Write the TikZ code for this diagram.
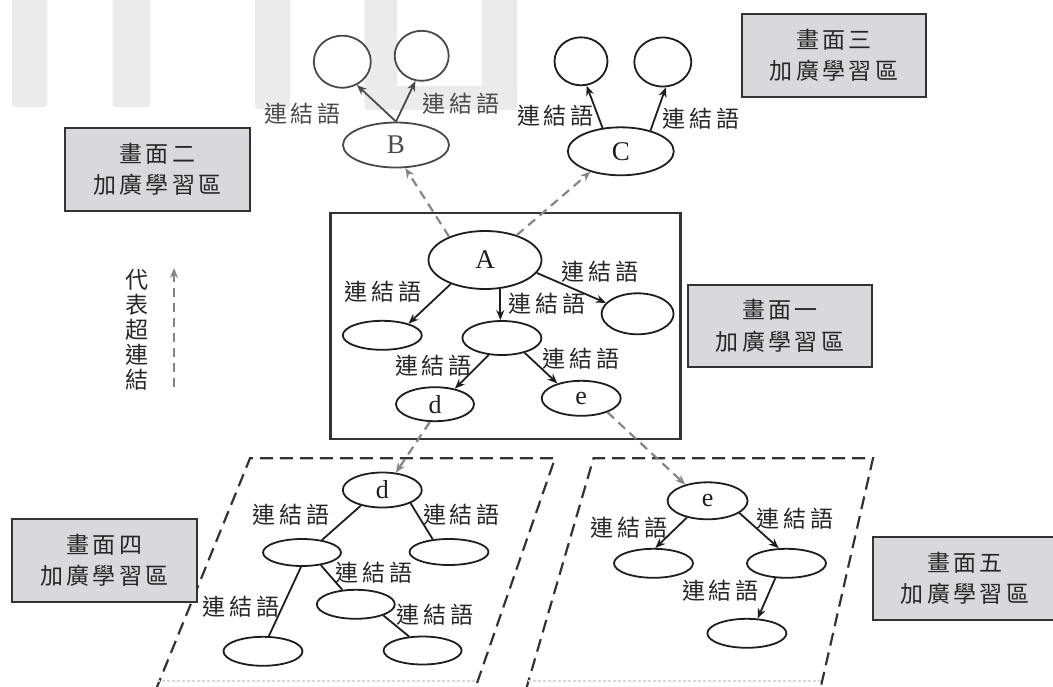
\documentclass[tikz,border=0pt]{standalone}
\usepackage{fontspec}
\setmainfont{Liberation Serif}
\newfontfamily\cjk{Noto Sans CJK TC}
\usetikzlibrary{shapes.geometric,arrows.meta}
\definecolor{boxgray}{HTML}{D9D9DB}
\definecolor{bargray}{HTML}{EBEBEB}
\definecolor{ink}{HTML}{1E1E1E}
\definecolor{inkB}{HTML}{4A4A4A}
\definecolor{linkgray}{HTML}{858585}
\definecolor{frame}{HTML}{333333}
\newcommand{\lkw}{連\kern4pt 結\kern4pt 語}
\newcommand{\gk}{\kern3.5pt}
\begin{document}
\begin{tikzpicture}[x=1pt,y=-1pt,
  ell/.style={ellipse, draw=ink, fill=white, line width=1.8pt, inner sep=0pt, font=\fontsize{27pt}{30pt}\selectfont, text=ink},
  small/.style={font=\fontsize{26pt}{29pt}\selectfont},
  lbl/.style={inner sep=0pt, font=\cjk\fontsize{23pt}{26pt}\selectfont, text=black!85},
  arr/.style={draw=ink, line width=1.8pt, -{Stealth[length=10pt,width=8pt]}},
  edgeln/.style={draw=ink, line width=1.8pt},
  hlink/.style={draw=linkgray, line width=2.2pt, dash pattern=on 9pt off 6pt, -{Stealth[length=10pt,width=8pt]}},
  pdash/.style={draw=frame, line width=2.2pt, dash pattern=on 13pt off 7pt},
  gbox/.style={draw=frame, fill=boxgray, line width=2.4pt, minimum width=184.5pt, minimum height=82.5pt, align=center, inner sep=0pt, font=\cjk\fontsize{23pt}{31.5pt}\selectfont, text=black!85}
]
\useasboundingbox (0,0) rectangle (1053,686);
\clip (0,0) rectangle (1053,686);

% faint background strips
\begin{scope}[rounded corners=3pt]
\fill[bargray] (11.8,-5) rectangle (47.3,107);
\fill[bargray] (112.6,-5) rectangle (150.4,107);
\fill[bargray] (255,-5) rectangle (290,109);
\fill[bargray] (364.4,-5) rectangle (397.2,110);
\fill[bargray] (481.7,-5) rectangle (517.2,108);
\fill[bargray] (390,86) rectangle (517.2,110);
\end{scope}

% dashed screens 4 and 5
\draw[pdash] (155.8,690) -- (250,458.3) -- (555,458.3) -- (474.6,690);
\draw[pdash] (525.9,690) -- (593.5,458.3) -- (873,458.3) -- (820.1,690);
\draw[gray!30, line width=1.5pt, dash pattern=on 3pt off 2pt] (157,681) -- (476,681);
\draw[gray!30, line width=1.5pt, dash pattern=on 3pt off 2pt] (528,681) -- (821,681);

% screen 1 frame
\node[draw=frame, line width=2.4pt, minimum width=350pt, minimum height=226pt, inner sep=0pt] (scr1) at (505.6,325.8) {};

% grey caption boxes
\node[gbox] (box2) at (157.5,169.5) {畫\gk 面\gk 二\\加\gk 廣\gk 學\gk 習\gk 區};
\node[gbox] (box3) at (834,55.5) {畫\gk 面\gk 三\\加\gk 廣\gk 學\gk 習\gk 區};
\node[gbox] (box1) at (780,326) {畫\gk 面\gk 一\\加\gk 廣\gk 學\gk 習\gk 區};
\node[gbox] (box4) at (104.5,560.5) {畫\gk 面\gk 四\\加\gk 廣\gk 學\gk 習\gk 區};
\node[gbox] (box5) at (965,578.5) {畫\gk 面\gk 五\\加\gk 廣\gk 學\gk 習\gk 區};

% ---- screen 2 (B)
\node[ell, draw=inkB, text=inkB, minimum width=106pt, minimum height=45pt] (B) at (396,145) {B};
\node[ell, draw=inkB, minimum width=57pt, minimum height=52pt] (Bc1) at (342.3,61.7) {};
\node[ell, draw=inkB, minimum width=54pt, minimum height=50pt] (Bc2) at (421.7,55.8) {};
\draw[arr, draw=inkB] (B.north) -- (Bc1.-58.5);
\draw[arr, draw=inkB] (B.north) -- (Bc2.-104.7);
\node[lbl, text=inkB] (lbB1) at (302.5,113.3) {\lkw};
\node[lbl, text=inkB] (lbB2) at (461,104) {\lkw};

% ---- screen 3 (C)
\node[ell, minimum width=106pt, minimum height=48pt] (C) at (620.8,151.3) {C};
\node[ell, minimum width=53pt, minimum height=48pt] (Cc1) at (581,61.3) {};
\node[ell, minimum width=57pt, minimum height=49pt] (Cc2) at (662.8,62) {};
\draw[arr] (C.128.8) -- (Cc1.-77.7);
\draw[arr] (C.35.2) -- (Cc2.-83.5);
\node[lbl] (lbC1) at (555.5,116) {\lkw};
\node[lbl] (lbC2) at (701,119) {\lkw};

% ---- screen 1
\node[ell, minimum width=113pt, minimum height=58pt] (A) at (485,260) {A};
\node[ell, minimum width=79pt, minimum height=29pt] (L1) at (382.3,335.3) {};
\node[ell, minimum width=79pt, minimum height=34pt] (M) at (501.9,338) {};
\node[ell, minimum width=72pt, minimum height=41pt] (R) at (637.6,313.8) {};
\node[ell, small, minimum width=78pt, minimum height=34pt] (d) at (435,404.2) {d};
\node[ell, small, minimum width=79pt, minimum height=35pt] (e) at (581.2,398.3) {e};
\draw[arr] (A.-145.2) -- (L1.24.2);
\draw[arr] (A.-62) -- (A.-62 |- M.north);
\draw[arr] (A.-14.3) -- (R.161.7);
\draw[arr] (M.-128.9) -- (d.38.3);
\draw[arr] (M.-33.9) -- (e.148.8);
\node[lbl] (lbAL) at (383,291.5) {\lkw};
\node[lbl] (lbAM) at (546.7,303.5) {\lkw};
\node[lbl] (lbAR) at (599.7,271.5) {\lkw};
\node[lbl] (lbMd) at (433.5,365.5) {\lkw};
\node[lbl] (lbMe) at (581,358.5) {\lkw};

% ---- screen 4 (d)
\node[ell, small, minimum width=79pt, minimum height=35pt] (d2) at (382.3,490) {d};
\node[ell, minimum width=78pt, minimum height=27pt] (dL) at (302,552.5) {};
\node[ell, minimum width=79pt, minimum height=26pt] (dR) at (449,552) {};
\node[ell, minimum width=78pt, minimum height=29pt] (dM) at (355.8,604.3) {};
\node[ell, minimum width=79pt, minimum height=29pt] (dBL) at (263,651.3) {};
\node[ell, minimum width=78pt, minimum height=28pt] (dBR) at (422.6,650.5) {};
\draw[edgeln] (d2.-144.3) -- (dL.32.3);
\draw[edgeln] (d2.-25) -- (dR.142.7);
\draw[edgeln] (dL.-94) -- (dBL.69.2);
\draw[edgeln] (dL.-34.4) -- (dM.133.8);
\draw[edgeln] (dM.-22.7) -- (dBR.134.6);
\node[lbl] (lbd1) at (290.8,515) {\lkw};
\node[lbl] (lbd2) at (461.5,515) {\lkw};
\node[lbl] (lbd3) at (374.4,572.5) {\lkw};
\node[lbl] (lbd4) at (240.9,606.7) {\lkw};
\node[lbl] (lbd5) at (435.3,615) {\lkw};

% ---- screen 5 (e)
\node[ell, small, minimum width=80pt, minimum height=37pt] (e2) at (707.6,500.8) {e};
\node[ell, minimum width=79pt, minimum height=29pt] (eL) at (653.5,563.3) {};
\node[ell, minimum width=79pt, minimum height=29pt] (eR) at (786.5,563.3) {};
\node[ell, minimum width=79pt, minimum height=29pt] (eB) at (746.9,633.3) {};
\draw[arr] (e2.-141.3) -- (eL.83.5);
\draw[arr] (e2.-21.2) -- (eR.117.5);
\draw[arr] (eR.-127.2) -- (eB.54.8);
\node[lbl] (lbe1) at (629.3,527.5) {\lkw};
\node[lbl] (lbe2) at (795.4,519) {\lkw};
\node[lbl] (lbe3) at (720.5,591) {\lkw};

% ---- hyperlinks
\draw[hlink] (A.147.7) -- (B.-68.6);
\draw[hlink] (A.38.5) -- (C.-146.5);
\draw[hlink] (d.-106.9) -- (d2.52.8);
\draw[hlink] (e.-28.1) -- (e2.144.1);

% ---- legend
\node[lbl, align=center, font=\cjk\fontsize{23pt}{25pt}\selectfont] (legend) at (137,329.5) {代\\表\\超\\連\\結};
\coordinate (lg1) at (174,387);
\coordinate (lg2) at (174,268);
\draw[hlink] (lg1) -- (lg2);
\end{tikzpicture}
\end{document}
